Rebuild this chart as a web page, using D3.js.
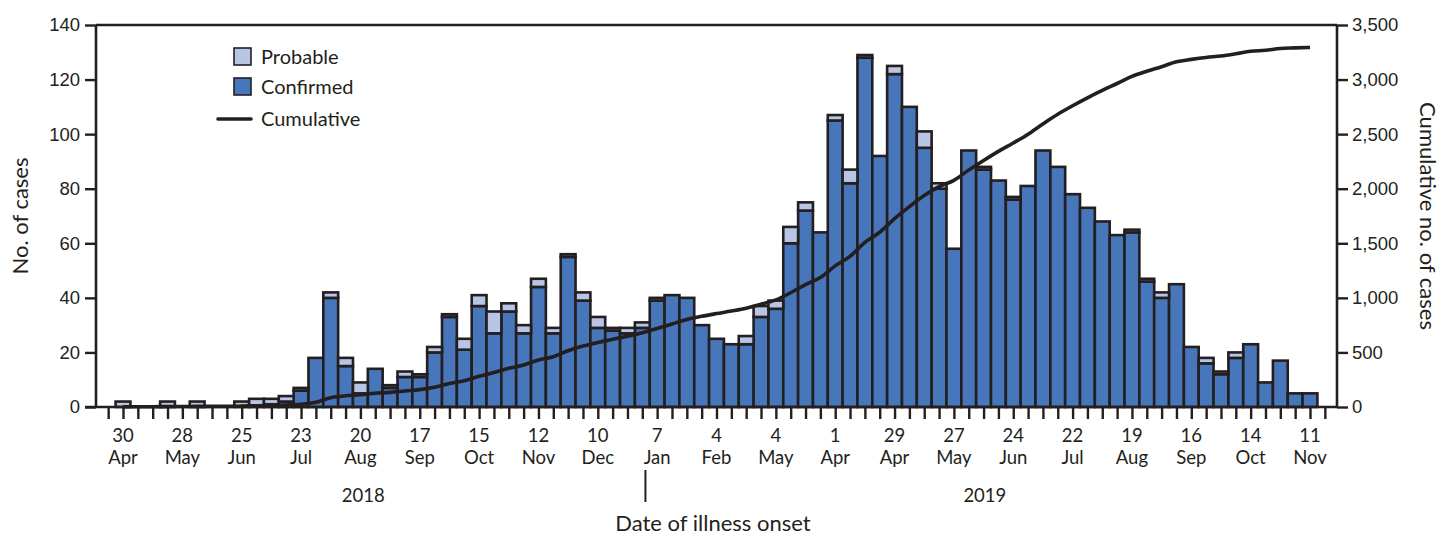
<!DOCTYPE html>
<html>
<head>
<meta charset="utf-8">
<script src="https://cdn.jsdelivr.net/npm/d3@7"></script>
<style>
  html, body { margin: 0; padding: 0; background: #fff; }
  svg { display: block; font-family: Lato, "Noto Sans", sans-serif; }
</style>
</head>
<body>
<svg id="chart" width="1444" height="538"></svg>
<script>
// Weekly counts by date of illness onset, weeks starting Monday 30 Apr 2018 – 11 Nov 2019
const firstWeek = new Date(2018, 3, 30);
const weekCount = 81;

const confirmed = [
  0, 0, 0, 0, 0, 0, 0, 0, 0, 0, 1, 2, 6, 18, 40, 15, 5, 14, 7, 11,
  11, 20, 33, 21, 37, 27, 35, 27, 44, 27, 55, 39, 29, 28, 27, 29, 39, 41, 40, 30,
  25, 23, 23, 33, 36, 60, 72, 64, 105, 82, 128, 92, 122, 110, 95, 80, 58, 94, 87, 83,
  76, 81, 94, 88, 78, 73, 68, 63, 64, 46, 40, 45, 22, 16, 12, 18, 23, 9, 17, 5,
  5
];
const probable = [
  2, 0, 0, 2, 0, 2, 0, 0, 2, 3, 2, 2, 1, 0, 2, 3, 4, 0, 1, 2,
  1, 2, 1, 4, 4, 8, 3, 3, 3, 2, 1, 3, 4, 1, 2, 2, 1, 0, 0, 0,
  0, 0, 3, 4, 3, 6, 3, 0, 2, 5, 1, 0, 3, 0, 6, 2, 0, 0, 1, 0,
  1, 0, 0, 0, 0, 0, 0, 0, 1, 1, 2, 0, 0, 2, 1, 2, 0, 0, 0, 0,
  0
];

// Labelled weeks (every fourth week) and their two-line labels
const labelWeeks = [0, 4, 8, 12, 16, 20, 24, 28, 32, 36, 40, 44, 48, 52, 56, 60, 64, 68, 72, 76, 80];
const labelDays = ["30", "28", "25", "23", "20", "17", "15", "12", "10", "7", "4", "4", "1", "29", "27", "24", "22", "19", "16", "14", "11"];
const labelMonths = ["Apr", "May", "Jun", "Jul", "Aug", "Sep", "Oct", "Nov", "Dec", "Jan", "Feb", "May", "Apr", "Apr", "May", "Jun", "Jul", "Aug", "Sep", "Oct", "Nov"];

const leftTicks = [0, 20, 40, 60, 80, 100, 120, 140];
const rightTicks = [0, 500, 1000, 1500, 2000, 2500, 3000, 3500];

const years = [{ label: "2018", date: new Date(2018, 7, 21) }, { label: "2019", date: new Date(2019, 5, 10) }];
const yearBreak = new Date(2019, 0, 1);

const colors = { confirmed: "#4876bb", probable: "#b9c5e4", ink: "#231f20" };

const weeks = d3.range(weekCount).map(i => d3.timeDay.offset(firstWeek, 7 * i));
const rows = weeks.map((w, i) => ({ i, week: w, confirmed: confirmed[i], probable: probable[i] }));
const cumulative = d3.cumsum(rows, d => d.confirmed + d.probable);

// Frame
const plotLeft = 96, plotRight = 1337, plotTop = 25, plotBase = 407;
const svg = d3.select("#chart");

const x = d3.scaleLinear().domain([-1.82, weekCount + 0.82]).range([plotLeft, plotRight]);
const xDate = d3.scaleTime()
  .domain([d3.timeDay.offset(firstWeek, -1.82 * 7), d3.timeDay.offset(firstWeek, (weekCount + 0.82) * 7)])
  .range([plotLeft, plotRight]);
const bw = x(1) - x(0);
const yL = d3.scaleLinear().domain([0, 140]).range([plotBase, plotTop]);
const yR = d3.scaleLinear().domain([0, 3500]).range([plotBase, plotTop]);

// Stacked bars: confirmed below, probable on top
const stack = d3.stack().keys(["confirmed", "probable"])(rows);
const barG = svg.append("g");
stack.forEach(layer => {
  barG.selectAll(null)
    .data(layer.filter(d => d[1] > d[0]))
    .join("rect")
    .attr("x", d => x(d.data.i) - bw / 2)
    .attr("width", bw)
    .attr("y", d => yL(d[1]))
    .attr("height", d => yL(d[0]) - yL(d[1]))
    .attr("fill", colors[layer.key])
    .attr("stroke", colors.ink)
    .attr("stroke-width", 2.6);
});

// Cumulative line on the right axis
svg.append("path")
  .datum(rows)
  .attr("fill", "none")
  .attr("stroke", colors.ink)
  .attr("stroke-width", 3.6)
  .attr("stroke-linejoin", "round")
  .attr("d", d3.line().x(d => x(d.i)).y((d, k) => yR(cumulative[k])).curve(d3.curveMonotoneX));

// Axes
const axisStyle = g => {
  g.select(".domain").remove();
  g.selectAll(".tick line").attr("stroke", colors.ink).attr("stroke-width", 2.4);
  g.selectAll(".tick text").attr("fill", colors.ink).attr("font-size", 18.5);
};

svg.append("g")
  .attr("transform", `translate(${plotLeft},0)`)
  .call(d3.axisLeft(yL).tickValues(leftTicks).tickSize(11).tickPadding(5))
  .call(axisStyle);

svg.append("g")
  .attr("transform", `translate(${plotRight},0)`)
  .call(d3.axisRight(yR).tickValues(rightTicks).tickSize(11).tickPadding(4).tickFormat(d3.format(",")))
  .call(axisStyle);

// Weekly ticks along the bottom
svg.append("g")
  .attr("transform", `translate(0,${plotBase})`)
  .call(d3.axisBottom(x).tickValues(d3.range(-1, weekCount + 1)).tickSize(12).tickFormat(""))
  .call(axisStyle);

// Frame lines
const frame = svg.append("g").attr("stroke", colors.ink).attr("stroke-width", 2.6).attr("fill", "none");
frame.append("line").attr("x1", plotLeft).attr("x2", plotRight).attr("y1", plotTop).attr("y2", plotTop);
frame.append("line").attr("x1", plotLeft).attr("x2", plotLeft).attr("y1", plotTop).attr("y2", plotBase);
frame.append("line").attr("x1", plotRight).attr("x2", plotRight).attr("y1", plotTop).attr("y2", plotBase);
frame.append("line").attr("x1", plotLeft - 11).attr("x2", plotRight).attr("y1", plotBase).attr("y2", plotBase);

// Two-line week labels
const lab = svg.append("g").attr("fill", colors.ink).attr("font-size", 18.5).attr("text-anchor", "middle");
labelWeeks.forEach((w, k) => {
  const t = lab.append("text").attr("x", x(w)).attr("y", plotBase + 35);
  t.append("tspan").attr("x", x(w)).text(labelDays[k]);
  t.append("tspan").attr("x", x(w)).attr("dy", 22).text(labelMonths[k]);
});

// Year labels and the year boundary mark
lab.selectAll(".yr").data(years).join("text")
  .attr("x", d => xDate(d.date)).attr("y", 502).text(d => d.label);
svg.append("line")
  .attr("x1", xDate(yearBreak)).attr("x2", xDate(yearBreak))
  .attr("y1", 470).attr("y2", 502)
  .attr("stroke", colors.ink).attr("stroke-width", 2);

// Axis titles
svg.append("text").attr("text-anchor", "middle").attr("font-size", 22).attr("fill", colors.ink)
  .attr("x", 713).attr("y", 531).text("Date of illness onset");
svg.append("text").attr("text-anchor", "middle").attr("font-size", 22).attr("fill", colors.ink)
  .attr("transform", `translate(28,${(plotTop + plotBase) / 2}) rotate(-90)`).text("No. of cases");
svg.append("text").attr("text-anchor", "middle").attr("font-size", 22).attr("fill", colors.ink)
  .attr("transform", `translate(1420,${(plotTop + plotBase) / 2}) rotate(90)`).text("Cumulative no. of cases");

// Legend
const legend = svg.append("g").attr("font-size", 20).attr("fill", colors.ink);
[{ key: "probable", label: "Probable", y: 57 }, { key: "confirmed", label: "Confirmed", y: 87 }].forEach(item => {
  legend.append("rect")
    .attr("x", 234).attr("y", item.y - 9).attr("width", 17).attr("height", 17)
    .attr("fill", colors[item.key]).attr("stroke", colors.ink).attr("stroke-width", 1.6);
  legend.append("text").attr("x", 261).attr("y", item.y + 7).text(item.label);
});
legend.append("line").attr("x1", 218).attr("x2", 251).attr("y1", 119).attr("y2", 119)
  .attr("stroke", colors.ink).attr("stroke-width", 3.6).attr("stroke-linecap", "round");
legend.append("text").attr("x", 261).attr("y", 126).text("Cumulative");
</script>
</body>
</html>
